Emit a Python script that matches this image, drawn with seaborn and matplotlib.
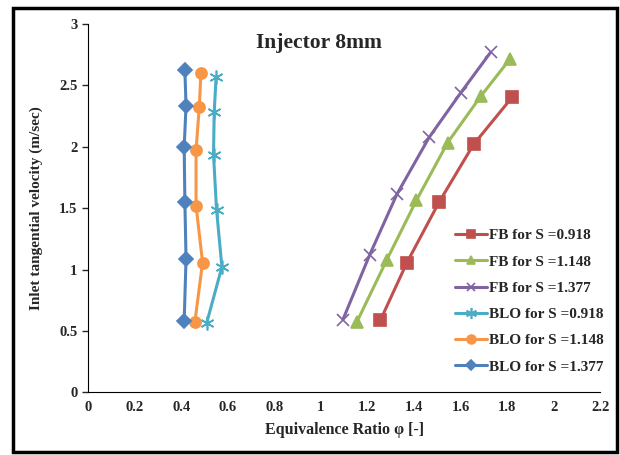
import pandas as pd
import seaborn as sns
import matplotlib.pyplot as plt
from matplotlib.patches import Rectangle

# FB (flashback) curves
fb_0918_phi = [1.256, 1.370, 1.508, 1.656, 1.821]
fb_0918_u = [0.587, 1.057, 1.549, 2.019, 2.402]
fb_1148_phi = [1.155, 1.284, 1.411, 1.545, 1.687, 1.812]
fb_1148_u = [0.573, 1.081, 1.565, 2.035, 2.412, 2.714]
fb_1377_phi = [1.095, 1.210, 1.327, 1.465, 1.601, 1.729]
fb_1377_u = [0.592, 1.120, 1.614, 2.076, 2.440, 2.769]

# BLO (blow-off) curves
blo_0918_phi = [0.509, 0.575, 0.552, 0.539, 0.542, 0.550]
blo_0918_u = [0.560, 1.021, 1.489, 1.937, 2.280, 2.565]
blo_1148_phi = [0.459, 0.492, 0.464, 0.464, 0.478, 0.485]
blo_1148_u = [0.573, 1.057, 1.521, 1.972, 2.328, 2.602]
blo_1377_phi = [0.413, 0.421, 0.416, 0.413, 0.421, 0.416]
blo_1377_u = [0.579, 1.086, 1.551, 1.999, 2.333, 2.624]

series = [
    ("FB for S =0.918", fb_0918_phi, fb_0918_u, "#C0504D", "s", 8),
    ("FB for S =1.148", fb_1148_phi, fb_1148_u, "#9BBB59", "^", 8),
    ("FB for S =1.377", fb_1377_phi, fb_1377_u, "#8064A2", "x", 8),
    ("BLO for S =0.918", blo_0918_phi, blo_0918_u, "#4BACC6", (6, 2, 0), 10),
    ("BLO for S =1.148", blo_1148_phi, blo_1148_u, "#F79646", "o", 8),
    ("BLO for S =1.377", blo_1377_phi, blo_1377_u, "#4F81BD", "D", 7),
]

sns.set_style("white")
plt.rcParams['font.family'] = ['Liberation Serif', 'DejaVu Serif']
plt.rcParams['font.weight'] = 'bold'

fig = plt.figure(figsize=(6.2, 4.55), dpi=100)
ax = fig.add_axes([0.142, 0.138, 0.826, 0.809])

for label, phi, u, color, marker, ms in series:
    df = pd.DataFrame({'phi': phi, 'u': u})
    sns.lineplot(data=df, x='phi', y='u', estimator=None, sort=False, ax=ax,
                 color=color, marker=marker, markersize=ms, linewidth=2.2,
                 markeredgecolor=color, markeredgewidth=1.2, label=label)

ax.set_xlim(0, 2.2)
ax.set_ylim(0, 3)
ax.set_xticks([i * 0.2 for i in range(12)])
ax.set_xticklabels(['0', '0.2', '0.4', '0.6', '0.8', '1', '1.2', '1.4', '1.6', '1.8', '2', '2.2'])
ax.set_yticks([0, 0.5, 1, 1.5, 2, 2.5, 3])
ax.set_yticklabels(['0', '0.5', '1', '1.5', '2', '2.5', '3'])
ax.tick_params(axis='x', direction='in', length=4, width=1, labelsize=10.5, pad=6)
ax.tick_params(axis='y', direction='out', length=4, width=1, labelsize=10.5, left=True)
for lab in ax.get_xticklabels() + ax.get_yticklabels():
    lab.set_fontweight('bold')
sns.despine(ax=ax)
ax.spines['left'].set_color('black')
ax.spines['bottom'].set_color('black')

ax.set_xlabel('Equivalence Ratio φ [-]', fontsize=11.5, fontweight='bold', labelpad=6)
ax.set_ylabel('Inlet tangential velocity (m/sec)', fontsize=11, fontweight='bold', labelpad=12)
ax.text(0.45, 0.975, 'Injector 8mm', transform=ax.transAxes, ha='center', va='top',
        fontsize=15.5, fontweight='bold')

ax.legend(loc='upper left', bbox_to_anchor=(441 / 620, 1 - 215 / 455),
          bbox_transform=fig.transFigure, frameon=False,
          handlelength=2.1, handletextpad=0.15, labelspacing=0.82, markerscale=0.8,
          prop={'weight': 'bold', 'size': 11})

fig.patches.append(Rectangle((13 / 620, 3 / 455), 604 / 620, 444 / 455,
                             transform=fig.transFigure, fill=False,
                             edgecolor='black', linewidth=2.5))

fig.savefig('out.png', dpi=100)
